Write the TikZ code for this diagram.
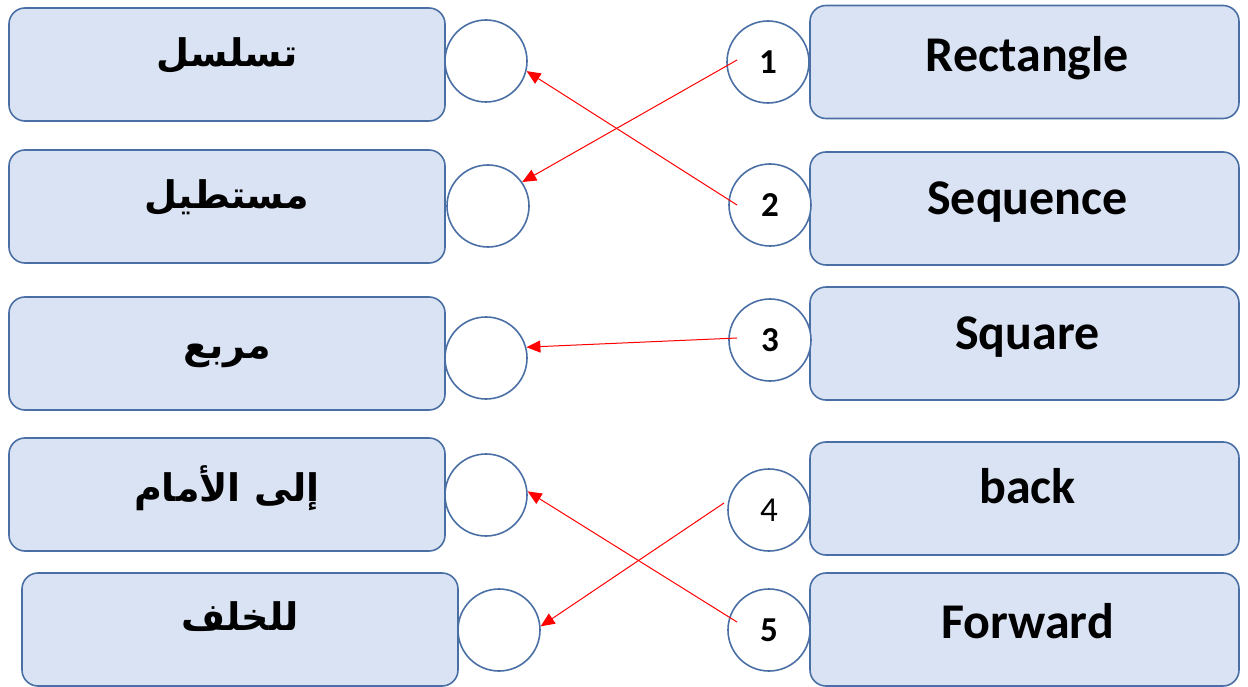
\documentclass[tikz,border=0pt]{standalone}
\usepackage{fontspec}
\setmainfont{Carlito}
\newfontfamily\arabicfont[Script=Arabic]{DejaVu Sans}
\TeXXeTstate=1
\usetikzlibrary{arrows.meta,calc}
\definecolor{boxfill}{HTML}{DAE3F3}
\definecolor{boxline}{HTML}{4A6FA5}
\begin{document}
\begin{tikzpicture}[x=1pt,y=-1pt,
  card/.style={draw=boxline, fill=boxfill, line width=1.6pt, rounded corners=16pt, minimum height=113pt, inner sep=0pt},
  leftcard/.style={card, minimum width=436pt},
  rightcard/.style={card, minimum width=429pt},
  artext/.style={inner sep=0pt, font=\arabicfont\bfseries\fontsize{38}{46}\selectfont},
  entext/.style={inner sep=0pt, font=\bfseries\fontsize{50}{58}\selectfont},
  badge/.style={circle, draw=boxline, fill=white, line width=1.6pt, minimum size=82pt, inner sep=0pt, font=\bfseries\fontsize{35}{40}\selectfont},
  link/.style={draw=red, line width=1pt, -{Triangle[length=14pt,width=12pt]}}]
\useasboundingbox (0,0) rectangle (1248,687);
% left cards
\node[leftcard] (L1) at (227,64.5) {};
\node[leftcard] (L2) at (227,206.5) {};
\node[leftcard] (L3) at (227,353.5) {};
\node[leftcard] (L4) at (227,494.5) {};
\node[leftcard] (L5) at (240,629.5) {};
\node[artext] (T1) at ($(L1.center)+(0,-9)$) {\beginR تسلسل\endR};
\node[artext] (T2) at ($(L2.center)+(0,-9)$) {\beginR مستطيل\endR};
\node[artext] (T3) at ($(L3.center)+(0,2)$) {\beginR مربع\endR};
\node[artext] (T4) at ($(L4.center)+(0,-6)$) {\beginR إلى الأمام\endR};
\node[artext] (T5) at ($(L5.center)+(0,-13)$) {\beginR للخلف\endR};
% right cards
\node[rightcard] (R1) at (1024.5,62) {};
\node[rightcard] (R2) at (1024.5,208.5) {};
\node[rightcard] (R3) at (1024.5,343.5) {};
\node[rightcard] (R4) at (1024.5,498.5) {};
\node[rightcard] (R5) at (1024.5,629.5) {};
\node[entext] (E1) at ($(R1.center)+(3,-4)$) {Rectangle};
\node[entext] (E2) at ($(R2.center)+(3,-6)$) {Sequence};
\node[entext] (E3) at ($(R3.center)+(3,-6)$) {Square};
\node[entext] (E4) at ($(R4.center)+(3,-12)$) {back};
\node[entext] (E5) at ($(R5.center)+(3,-8)$) {Forward};
% left circles
\node[badge] (LC1) at (486,61) {};
\node[badge] (LC2) at (488,206) {};
\node[badge] (LC3) at (486,358) {};
\node[badge] (LC4) at (486,495) {};
\node[badge] (LC5) at (499,630) {};
% right circles
\node[badge] (RC1) at (768,62) {1};
\node[badge] (RC2) at (770,205) {2};
\node[badge] (RC3) at (770,340) {3};
\node[badge, font=\fontsize{35}{40}\selectfont] (RC4) at (769,510) {4};
\node[badge] (RC5) at (769,630) {5};
% arrow starts
\coordinate (S1) at ($(RC1.center)+(-31,-2)$);
\coordinate (S2) at ($(RC2.center)+(-33,0)$);
\coordinate (S3) at ($(RC3.center)+(-33,-2)$);
\coordinate (S4) at ($(RC4.center)+(-45,-7)$);
\coordinate (S5) at ($(RC5.center)+(-32,-8)$);
% arrows
\draw[link] (S1) -- (LC2.35);
\draw[link] (S2) -- (LC1.-14);
\draw[link] (S3) -- (LC3.15);
\draw[link] (S4) -- (LC5.5);
\draw[link] (S5) -- (LC4.5);
\end{tikzpicture}
\end{document}
